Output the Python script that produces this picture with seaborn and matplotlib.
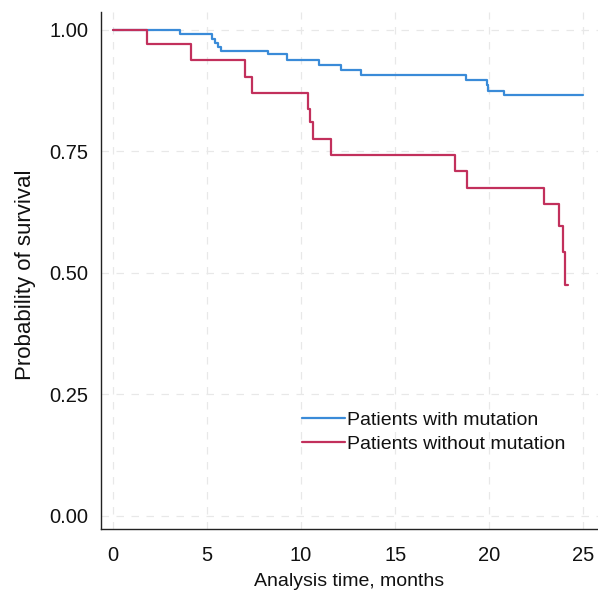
import matplotlib
matplotlib.use('Agg')
import matplotlib.pyplot as plt
import seaborn as sb
import pandas as pd

# Kaplan-Meier step points
t_mut = [0, 3.55, 5.3, 5.45, 5.6, 5.75, 8.25, 9.26, 10.93, 12.13, 13.19, 18.76, 19.86, 19.95, 20.76, 25.0]
s_mut = [1.0, 0.991, 0.982, 0.973, 0.965, 0.957, 0.950, 0.938, 0.928, 0.918, 0.908, 0.897, 0.886, 0.875, 0.866, 0.866]

t_wt = [0, 1.82, 4.14, 7.0, 7.41, 10.38, 10.48, 10.63, 11.6, 18.2, 18.83, 22.88, 23.71, 23.89, 24.0, 24.17]
s_wt = [1.0, 0.971, 0.938, 0.904, 0.871, 0.838, 0.810, 0.776, 0.743, 0.710, 0.674, 0.642, 0.597, 0.543, 0.474, 0.474]

groups = ['Patients with mutation', 'Patients without mutation']
colours = ['#3a8bd8', '#c2305c']

df = pd.concat([
    pd.DataFrame({'time': t_mut, 'surv': s_mut, 'group': groups[0]}),
    pd.DataFrame({'time': t_wt, 'surv': s_wt, 'group': groups[1]}),
])

sb.set_style('white')
plt.rcParams['font.family'] = ['Liberation Sans', 'DejaVu Sans']
plt.rcParams['text.color'] = '#111111'
plt.rcParams['axes.labelcolor'] = '#111111'
plt.rcParams['xtick.labelcolor'] = '#111111'
plt.rcParams['ytick.labelcolor'] = '#111111'

fig = plt.figure(figsize=(5.98, 5.93), dpi=100)
ax = fig.add_axes([0.1689, 0.1074, 0.8311, 0.8724])

sb.lineplot(data=df, x='time', y='surv', hue='group', palette=colours,
            drawstyle='steps-post', estimator=None, linewidth=1.6, ax=ax)

ax.set_xlim(-0.62, 25.77)
ax.set_ylim(-0.028, 1.037)
ax.set_xticks([0, 5, 10, 15, 20, 25])
ax.set_yticks([0, 0.25, 0.5, 0.75, 1.0])
ax.set_yticklabels(['0.00', '0.25', '0.50', '0.75', '1.00'])
ax.grid(True, linestyle=(0, (6, 6)), color='#e8e8e8', linewidth=0.9)
ax.set_axisbelow(True)
for s in ['top', 'right']:
    ax.spines[s].set_visible(False)
for s in ['left', 'bottom']:
    ax.spines[s].set_color('#222222')
    ax.spines[s].set_linewidth(1.0)
ax.tick_params(direction='out', width=1, color='#222222', labelsize=14.5)
ax.tick_params(axis='x', length=8, pad=4)
ax.tick_params(axis='y', length=7, pad=2)
ax.set_xlabel('Analysis time, months', fontsize=14)
ax.set_ylabel('Probability of survival', fontsize=16)
ax.xaxis.label.set_va('center')
ax.yaxis.label.set_va('center')
ax.xaxis.set_label_coords((349 - 101) / 497, -0.1)
ax.yaxis.set_label_coords(-0.152, (529 - 275) / 517)

ax.legend(title=None, frameon=False, loc='upper left', bbox_to_anchor=(0.404, 0.228),
          fontsize=14, handlelength=2.2, handletextpad=0.1, labelspacing=0.34, borderpad=0,
          borderaxespad=0)

plt.savefig('out.png', dpi=100)
